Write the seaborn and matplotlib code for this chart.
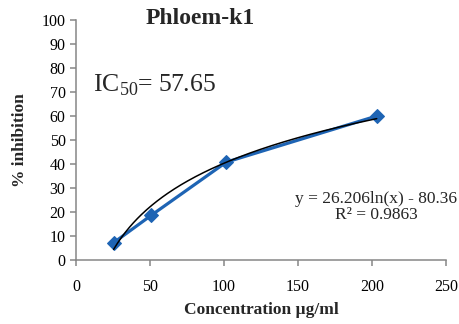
import numpy as np
import matplotlib
matplotlib.use("Agg")
import matplotlib.pyplot as plt
import seaborn as sns
import pandas as pd

# Data
concentration = [25.4, 50.8, 101.6, 203.2]
inhibition = [7.2, 18.6, 40.8, 60.0]
log_slope = 26.206
log_intercept = -80.36
r_squared = 0.9863
ic50 = 57.65
x_ticks = [0, 50, 100, 150, 200, 250]
y_ticks = [0, 10, 20, 30, 40, 50, 60, 70, 80, 90, 100]

sns.set_theme(style="white")
plt.rcParams['font.family'] = ['Liberation Serif', 'DejaVu Serif']
plt.rcParams['mathtext.fontset'] = 'custom'
plt.rcParams['mathtext.rm'] = 'Liberation Serif'

fig = plt.figure(figsize=(4.6, 3.24), dpi=100)
ax = fig.add_axes([76/460, 1-260/324, 370/460, 240/324])

df = pd.DataFrame({"x": concentration, "y": inhibition})
blue = "#1E64B4"
sns.lineplot(data=df, x="x", y="y", ax=ax, color=blue, linewidth=2.3,
             marker="D", markersize=7, markeredgecolor=blue, zorder=3)

xs = np.linspace(min(concentration), max(concentration), 200)
ax.plot(xs, log_slope*np.log(xs) + log_intercept, color="black", linewidth=1.1, zorder=4)

ax.set_xlim(0, 250)
ax.set_ylim(0, 100)
ax.set_xticks(x_ticks)
ax.set_yticks(y_ticks)
ax.set_xticklabels([str(t) for t in x_ticks])
ax.set_yticklabels([str(t) for t in y_ticks])
ax.set_xlabel("")
ax.set_ylabel("")

for s in ["top", "right"]:
    ax.spines[s].set_visible(False)
for s in ["left", "bottom"]:
    ax.spines[s].set_color("#868686")
    ax.spines[s].set_linewidth(1.1)
ax.tick_params(axis="both", colors="#868686", labelcolor="black", labelsize=11.5,
               length=4.5, width=1.1, direction="out")
ax.tick_params(axis="x", pad=9, bottom=True)
ax.tick_params(axis="y", pad=3, left=True)

fig.text(200/460, 1-19/324, "Phloem-k1", ha="center", va="center",
         fontsize=17, fontweight="bold")
fig.text(20/460, 1-140/324, "% inhibition", rotation=90, ha="center", va="center",
         fontsize=12.5, fontweight="bold")
fig.text(261/460, 1-310/324, "Concentration µg/ml", ha="center", va="center",
         fontsize=12.5, fontweight="bold")
fig.text(93/460, 1-91/324, r"IC$_{\mathrm{50}}$= " + f"{ic50}", ha="left", va="baseline",
         fontsize=18.5)
fig.text(376/460, 1-207/324,
         f"y = {log_slope}ln(x) - {abs(log_intercept)}\nR² = {r_squared}",
         ha="center", va="center", fontsize=12.5, linespacing=1.05)

fig.savefig("out.png", dpi=100)
